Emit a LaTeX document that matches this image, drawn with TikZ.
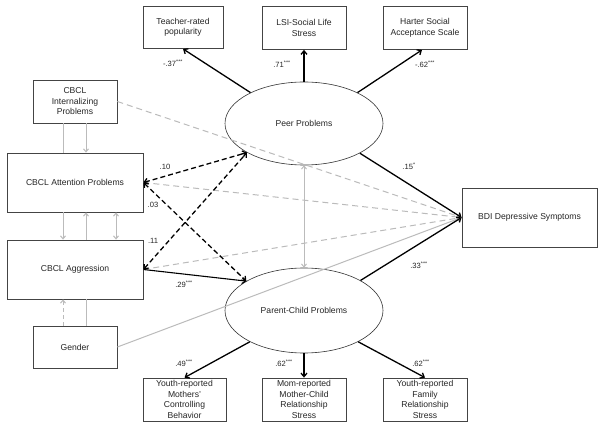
\documentclass[tikz,border=0pt]{standalone}
\usepackage{fontspec}
\setmainfont{Liberation Sans}
\usetikzlibrary{arrows.meta,calc}
\definecolor{lgray}{HTML}{BBBBBB}
\definecolor{boxc}{HTML}{444444}
\tikzset{
  box/.style={draw=boxc,line width=0.8pt,align=center,inner sep=1pt,
    font=\fontsize{8.6}{10.5}\selectfont,text=black!85},
  lat/.style={draw=black!80,line width=0.6pt,ellipse,inner sep=0pt,
    font=\fontsize{8.6}{10.5}\selectfont,text=black!85},
  blk/.style={draw=black,line width=1.3pt,-{Straight Barb[length=3.5pt,width=6pt]}},
  blkd/.style={draw=black,line width=1.3pt,dash pattern=on 5pt off 3pt,
    {Straight Barb[length=3.5pt,width=6pt]}-{Straight Barb[length=3.5pt,width=6pt]}},
  gry/.style={draw=lgray,line width=1pt},
  gryarr/.style={gry,-{Straight Barb[length=3pt,width=5pt]}},
  grydash/.style={gry,dash pattern=on 6pt off 4pt,-{Straight Barb[length=3pt,width=5pt]}},
  lbl/.style={font=\fontsize{7.6}{9}\selectfont,text=black!85,inner sep=0pt},
}
\usetikzlibrary{shapes.geometric}
\begin{document}
\begin{tikzpicture}[x=1pt,y=-1pt]
\useasboundingbox[fill=white] (0,0) rectangle (604,427);
% top boxes
\node[box,minimum width=80pt,minimum height=42pt] (teach) at (183,27.5) {Teacher-rated\\popularity};
\node[box,minimum width=84pt,minimum height=43pt] (lsi) at (304,28) {LSI-Social Life\\Stress};
\node[box,minimum width=84pt,minimum height=43pt] (hart) at (425,28) {Harter Social\\Acceptance Scale};
% latent
\node[lat,minimum width=158pt,minimum height=83pt] (peer) at (304,123.5) {Peer Problems};
\node[lat,minimum width=158pt,minimum height=85pt] (par) at (304,310.5) {Parent-Child Problems};
% left boxes
\node[box,minimum width=84pt,minimum height=43pt] (intern) at (75,101.5) {CBCL\\Internalizing\\Problems};
\node[box,minimum width=136pt,minimum height=59pt] (att) at (75,182.5) {CBCL Attention Problems};
\node[box,minimum width=136pt,minimum height=59pt] (agg) at (75,269.5) {CBCL Aggression};
\node[box,minimum width=84pt,minimum height=42pt] (gen) at (75,347) {Gender};
% BDI
\node[box,minimum width=135pt,minimum height=59pt] (bdi) at (529.5,217.5) {BDI Depressive Symptoms};
% bottom boxes
\node[box,minimum width=83pt,minimum height=43pt] (ym) at (184.5,399.5) {Youth-reported\\Mothers'\\Controlling\\Behavior};
\node[box,minimum width=84pt,minimum height=43pt] (mom) at (304,399.5) {Mom-reported\\Mother-Child\\Relationship\\Stress};
\node[box,minimum width=84pt,minimum height=43pt] (yf) at (425,399.5) {Youth-reported\\Family\\Relationship\\Stress};

% gray lines to BDI
\draw[grydash] (intern.east) -- (bdi.west);
\draw[grydash] (att.east) -- (bdi.west);
\draw[grydash] (agg.east) -- (bdi.west);
\draw[gryarr] (gen.east) -- (bdi.west);
% left verticals
\draw[gry] ([xshift=-12pt]intern.south) -- ([xshift=-12pt]intern.south |- att.north);
\draw[gryarr] ([xshift=11pt]intern.south) -- ([xshift=11pt]intern.south |- att.north);
\draw[gryarr] ([xshift=-12pt]att.south) -- ([xshift=-12pt]att.south |- agg.north);
\draw[gryarr] ([xshift=11pt]agg.north) -- ([xshift=11pt]agg.north |- att.south);
\draw[gryarr,{Straight Barb[length=3pt,width=5pt]}-{Straight Barb[length=3pt,width=5pt]}] ([xshift=41pt]att.south) -- ([xshift=41pt]att.south |- agg.north);
\draw[gry,dash pattern=on 4pt off 3pt,-{Straight Barb[length=3pt,width=5pt]}] ([xshift=-12pt]gen.north) -- ([xshift=-12pt]gen.north |- agg.south);
\draw[gry] ([xshift=11pt]gen.north) -- ([xshift=11pt]gen.north |- agg.south);
% peer <-> parent
\draw[gry,{Straight Barb[length=3pt,width=5pt]}-{Straight Barb[length=3pt,width=5pt]}] (peer.south) -- (par.north);
% dashed black
\draw[blkd] (att.east) -- (peer.207);
\draw[blkd] (agg.east) -- (peer.207);
\draw[blkd] (att.east) -- (par.153);
% solid black
\draw[blk,line width=1.1pt] (agg.east) -- (par.153);
\draw[blk] (peer.150) -- (teach.south);
\draw[blk] (peer.north) -- (lsi.south);
\draw[blk] (peer.30) -- ([xshift=-3pt]hart.south);
\draw[blk] (par.210) -- (ym.north);
\draw[blk] (par.south) -- (mom.north);
\draw[blk] (par.330) -- (yf.north);
\draw[blk] (peer.-28) -- (bdi.west);
\draw[blk] (par.28) -- (bdi.west);
% labels
\node[lbl] at (173,63) {-.37\textsuperscript{***}};
\node[lbl] at (282,64) {.71\textsuperscript{***}};
\node[lbl] at (425,64) {-.62\textsuperscript{***}};
\node[lbl] at (165,167) {.10};
\node[lbl] at (153,205) {.03};
\node[lbl] at (153,241) {.11};
\node[lbl] at (184,284) {.29\textsuperscript{***}};
\node[lbl] at (409,166) {.15\textsuperscript{*}};
\node[lbl] at (419,265) {.33\textsuperscript{***}};
\node[lbl] at (184,363) {.49\textsuperscript{***}};
\node[lbl] at (284,363) {.62\textsuperscript{***}};
\node[lbl] at (421,363) {.62\textsuperscript{***}};
\end{tikzpicture}
\end{document}
